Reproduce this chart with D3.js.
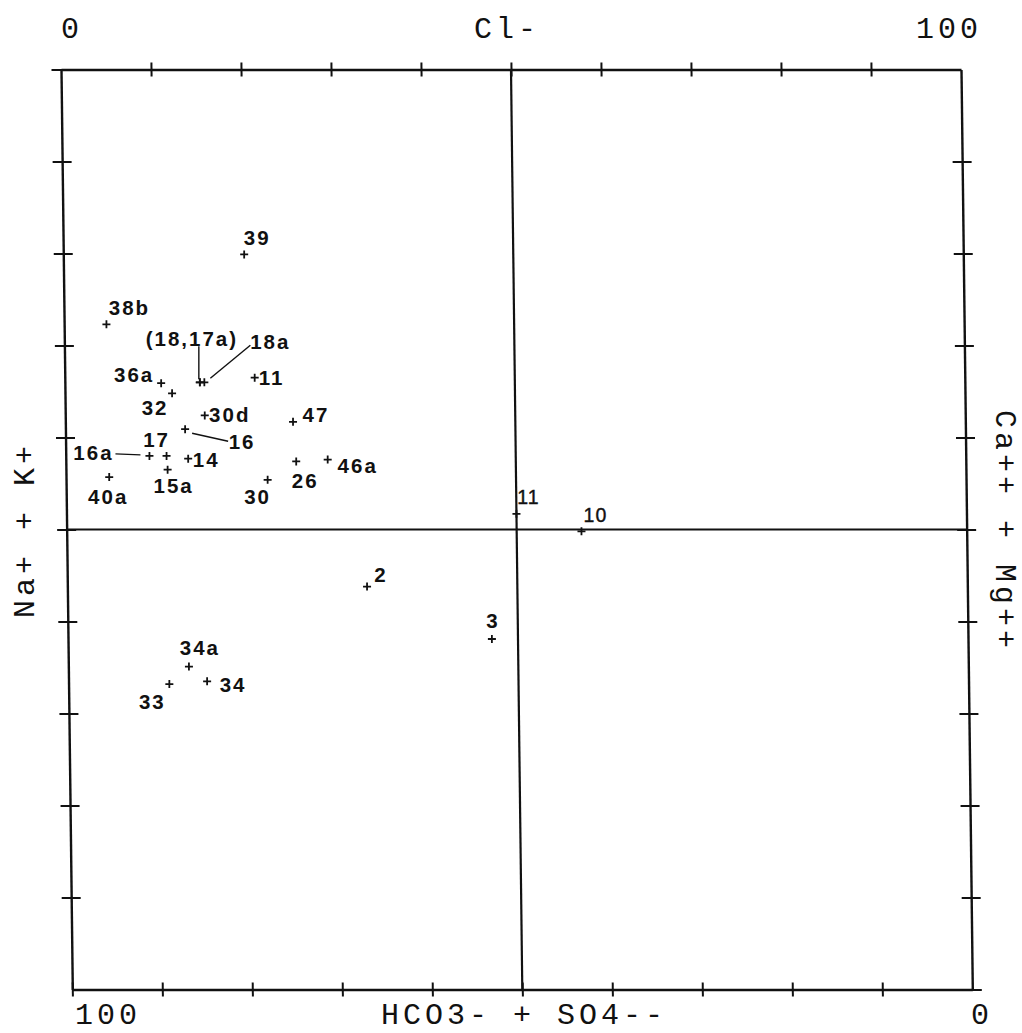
<!DOCTYPE html>
<html><head><meta charset="utf-8">
<script src="https://cdn.jsdelivr.net/npm/d3@7"></script>
<style>body{margin:0;background:#fff}</style>
</head><body>
<svg id="c" width="1022" height="1033"></svg>
<script>
// ---- data ----
const sampleIds  = ["39","38b","18","17a","18a","11","36a","32","30d","47","16","17","16a","14","15a","40a","26","46a","30","2","34a","33","34","11b","10","3"];
const clPercent  = [20.1, 4.7, 15.0, 15.0, 15.5, 21.1, 10.7, 11.9, 15.5, 25.3, 13.3, 11.2, 9.3, 13.6, 11.3, 4.8, 25.6, 29.1, 22.4, 33.3, 13.4, 11.2, 15.4, 50.0, 57.2, 47.1];
const naKPercent = [79.9, 72.3, 66.0, 66.0, 66.0, 66.5, 65.9, 64.8, 62.4, 61.7, 60.9, 58.0, 58.0, 57.7, 56.5, 55.7, 57.4, 57.6, 55.4, 43.8, 35.1, 33.2, 33.5, 51.7, 49.8, 38.1];
const pointLabels = ["39","38b","(18,17a)","","18a","11","36a","32","30d","47","16","17","16a","14","15a","40a","26","46a","30","2","34a","33","34","11","10","3"];
const tickValues = [0,10,20,30,40,50,60,70,80,90,100];
const topAxisLabels = ["0","Cl-","100"];
const bottomAxisLabels = ["100","HCO3- + SO4--","0"];
const leftAxisTitle = "Na+ + K+";
const rightAxisTitle = "Ca++ + Mg++";

// ---- layout (label offsets in px, optional leader line) ----
const labelLayout = {
  "39":[13,-17], "38b":[23,-17], "18":[-8,-44,[-1,-36,-1,-3]], "18a":[66,-41,[6,-4,46,-37]],
  "11":[17,0], "36a":[-27,-9], "32":[-17,14], "30d":[25,-1], "47":[23,-7],
  "16":[57,12,[7,4,43,12]], "17":[-10,-16], "16a":[-56,-3,[-34,-2,-9,-1]], "14":[18,1],
  "15a":[6,16], "40a":[-1,19], "26":[9,19], "46a":[30,6], "30":[-10,17], "2":[14,-12],
  "34a":[11,-19], "33":[-17,17], "34":[26,3], "11b":[12,-17], "10":[14,-16], "3":[1,-18]
};
const lightLabels = new Set(["11b","10"]);

const svg = d3.select("#c");
const x = d3.scaleLinear().domain([0,100]).range([61,961]);
const y = d3.scaleLinear().domain([0,100]).range([989.5,69.5]);
const shear = 11.3/920, y0 = 69.5;
const proj = (u,v) => { const yy = y(v); return [x(u) + shear*(yy - y0), yy]; };

const ink = "#111";
const g = svg.append("g").attr("transform", `matrix(1,0,${shear},1,${-shear*y0},0)`);

function styleAxis(sel, crossA, crossB, vertical){
  sel.select(".domain").attr("stroke", ink).attr("stroke-width", 2.4);
  sel.selectAll(".tick line").attr("stroke", ink).attr("stroke-width", 2)
    .attr(vertical ? "x1" : "y1", crossA).attr(vertical ? "x2" : "y2", crossB);
  sel.selectAll(".tick text").remove();
}
const inner = tickValues.slice(1,-1);
g.append("g").attr("transform",`translate(0,${y(100)})`)
  .call(d3.axisTop(x).tickValues(inner).tickSizeOuter(0).tickFormat(""))
  .call(s=>styleAxis(s,-7,7,false));
g.append("g").attr("transform",`translate(0,${y(0)})`)
  .call(d3.axisBottom(x).tickValues(tickValues.slice(0,-1)).tickSizeOuter(0).tickFormat(""))
  .call(s=>styleAxis(s,-7,7,false));
g.append("g").attr("transform",`translate(${x(0)},0)`)
  .call(d3.axisLeft(y).tickValues(tickValues.slice(1)).tickSizeOuter(0).tickFormat(""))
  .call(s=>styleAxis(s,-9.5,9.5,true));
g.append("g").attr("transform",`translate(${x(100)},0)`)
  .call(d3.axisRight(y).tickValues(tickValues.slice(0,-1)).tickSizeOuter(0).tickFormat(""))
  .call(s=>styleAxis(s,-9.5,9.5,true));
// centre cross lines
g.append("line").attr("x1",x(50)).attr("x2",x(50)).attr("y1",y(100)).attr("y2",y(0))
  .attr("stroke",ink).attr("stroke-width",2.2);
g.append("line").attr("x1",x(0)).attr("x2",x(100)).attr("y1",y(50)).attr("y2",y(50))
  .attr("stroke",ink).attr("stroke-width",2.2);

// points
const pts = sampleIds.map((id,i)=>({id, u:clPercent[i], v:naKPercent[i], label:pointLabels[i]}));
svg.append("g").selectAll("path").data(pts).join("path")
  .attr("transform", d=>{const p=proj(d.u,d.v); return `translate(${p[0]},${p[1]})`;})
  .attr("d","M-4,0H4M0,-4V4").attr("stroke",ink).attr("stroke-width",1.8).attr("fill","none");

// labels & leaders
const lg = svg.append("g");
pts.filter(d=>d.label).forEach(d=>{
  const p = proj(d.u,d.v), L = labelLayout[d.id] || [10,-10];
  const light = lightLabels.has(d.id);
  lg.append("text").attr("x",p[0]+L[0]).attr("y",p[1]+L[1])
    .attr("text-anchor","middle").attr("dominant-baseline","central")
    .attr("font-family","'Liberation Sans', Arial, sans-serif").attr("font-weight", light ? "normal" : "bold")
    .attr("font-size", light ? 19.5 : 20.5).attr("letter-spacing", light ? 1 : 2)
    .attr("stroke", light ? ink : "none").attr("stroke-width", light ? 0.4 : 0)
    .attr("fill",ink).text(d.label);
  if (L[2]) {
    const l = L[2];
    lg.append("line").attr("x1",p[0]+l[0]).attr("y1",p[1]+l[1]).attr("x2",p[0]+l[2]).attr("y2",p[1]+l[3])
      .attr("stroke",ink).attr("stroke-width",1.4);
  }
});

// axis texts
const mono = "'Liberation Mono', 'DejaVu Sans Mono', monospace";
function axisText(tx,ty,t,rot){
  const el = svg.append("text").attr("text-anchor","middle").attr("dominant-baseline","central")
    .attr("font-family",mono).attr("font-size",30).attr("letter-spacing",4).attr("fill",ink).text(t);
  el.attr("transform",`translate(${tx},${ty})` + (rot?` rotate(${rot})`:""));
}
const topPos = [70, 505, 947];
topAxisLabels.forEach((t,i)=>axisText(topPos[i]+2, 30, t, 0));
const botPos = [106, 522, 980];
bottomAxisLabels.forEach((t,i)=>axisText(botPos[i]+2, 1016, t, 0));
axisText(26, 530, leftAxisTitle, -90);
axisText(1004, 531, rightAxisTitle, 90);
</script>
</body></html>
